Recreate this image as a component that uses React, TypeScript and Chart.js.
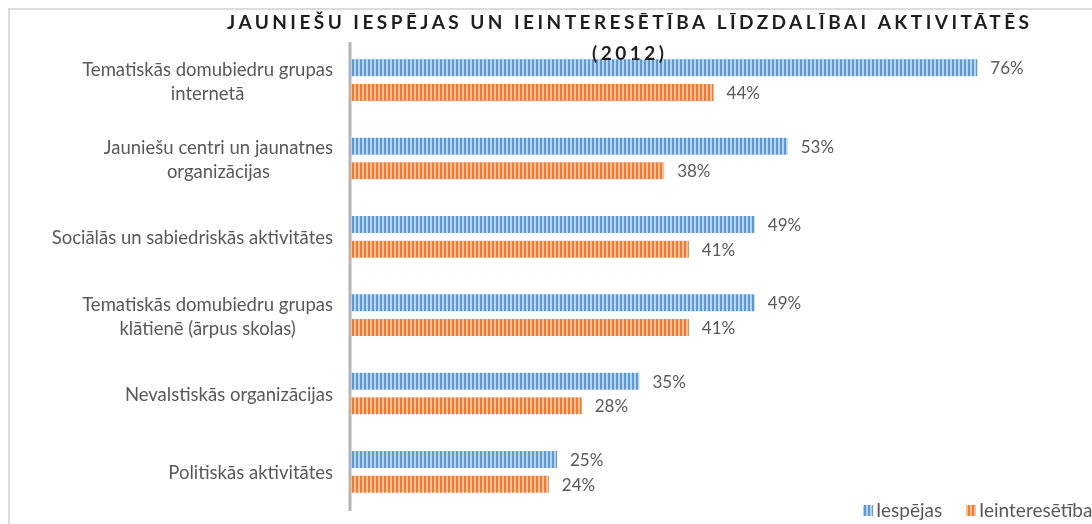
import React, { useEffect, useRef } from "react";
import { Chart, registerables } from "chart.js";
Chart.register(...registerables);

const categories: string[][] = [
  ["Tematiskās domubiedru grupas", "internetā"],
  ["Jauniešu centri un jaunatnes", "organizācijas"],
  ["Sociālās un sabiedriskās aktivitātes"],
  ["Tematiskās domubiedru grupas", "klātienē (ārpus skolas)"],
  ["Nevalstiskās organizācijas"],
  ["Politiskās aktivitātes"],
];
const seriesNames = ["Iespējas", "Ieinteresētība"];
const iespejas = [76, 53, 49, 49, 35, 25];
const ieinteresetiba = [44, 38, 41, 41, 28, 24];
const titleLines = ["JAUNIEŠU IESPĒJAS UN IEINTERESĒTĪBA LĪDZDALĪBAI AKTIVITĀTĒS", "(2012)"];

const BLUE = ["#5b9bd5", "#b7d3f0"];
const ORANGE = ["#ed7d31", "#f8bf99"];
const LABEL_FONT = "18.5px Lato";
const VALUE_FONT = "17px Lato";
const LEGEND_FONT = "19px Lato";
const TITLE_FONT = "bold 19px Lato";
const TEXT_COLOR = "#595959";

function stripes(dark: string, light: string): CanvasPattern | string {
  const c = document.createElement("canvas");
  c.width = 4;
  c.height = 4;
  const g = c.getContext("2d");
  if (!g) return dark;
  g.fillStyle = light;
  g.fillRect(0, 0, 4, 4);
  g.fillStyle = dark;
  g.fillRect(0, 0, 2, 4);
  return g.createPattern(c, "repeat") || dark;
}

export default function App() {
  const ref = useRef<HTMLCanvasElement | null>(null);
  useEffect(() => {
    document.body.style.margin = "0";
    const canvas = ref.current;
    if (!canvas) return;
    const pBlue = stripes(BLUE[0], BLUE[1]);
    const pOrange = stripes(ORANGE[0], ORANGE[1]);

    const deco = {
      id: "deco",
      beforeDatasetsDraw(chart: any) {
        const ctx = chart.ctx;
        const a = chart.chartArea;
        ctx.save();
        ctx.strokeStyle = "#dcdcdc";
        ctx.lineWidth = 2;
        ctx.strokeRect(9, 9, 1200, 700);
        ctx.fillStyle = "#b5b5b5";
        ctx.fillRect(a.left - 2.5, a.top + 1, 3, a.bottom - a.top - 1);
        ctx.restore();
      },
      afterDraw(chart: any) {
        const ctx = chart.ctx;
        const yScale = chart.scales.y;
        ctx.save();
        // category labels
        ctx.font = LABEL_FONT;
        ctx.fillStyle = TEXT_COLOR;
        ctx.textBaseline = "middle";
        ctx.textAlign = "center";
        categories.forEach((lines, i) => {
          const cy = yScale.getPixelForValue(i) + 1.5;
          const widest = Math.max(...lines.map((l) => ctx.measureText(l).width));
          const cx = 333 - widest / 2;
          lines.forEach((l, j) => {
            ctx.fillText(l, cx, cy + (j - (lines.length - 1) / 2) * 24);
          });
        });
        // data labels
        ctx.font = VALUE_FONT;
        ctx.textAlign = "left";
        chart.data.datasets.forEach((ds: any, di: number) => {
          const meta = chart.getDatasetMeta(di);
          meta.data.forEach((el: any, i: number) => {
            ctx.fillText(ds.data[i] + "%", el.x + 13, el.y + 1);
          });
        });
        // legend
        ctx.font = LEGEND_FONT;
        const legendItems = [
          { x: 863, pat: pBlue, text: seriesNames[0] },
          { x: 966, pat: pOrange, text: seriesNames[1] },
        ];
        legendItems.forEach((it) => {
          ctx.fillStyle = it.pat as any;
          ctx.fillRect(it.x, 505, 10, 11);
          ctx.fillStyle = TEXT_COLOR;
          ctx.fillText(it.text, it.x + 13, 511);
        });
        // title
        ctx.font = TITLE_FONT;
        ctx.fillStyle = "#1e1e1e";
        const target = 802;
        const chars = Array.from(titleLines[0]).length;
        (ctx as any).letterSpacing = "0px";
        const w0 = ctx.measureText(titleLines[0]).width;
        const ls = Math.max(0, (target - w0) / (chars - 1));
        (ctx as any).letterSpacing = ls + "px";
        const cxT = 628;
        ctx.textAlign = "left";
        ctx.fillText(titleLines[0], cxT - target / 2, 23);
        const w2 = ctx.measureText(titleLines[1]).width - ls;
        ctx.fillText(titleLines[1], cxT - w2 / 2, 54);
        (ctx as any).letterSpacing = "0px";
        ctx.restore();
      },
    };

    const chart = new Chart(canvas, {
      type: "bar",
      data: {
        labels: categories.map((c) => c.join(" ")),
        datasets: [
          {
            label: seriesNames[0],
            data: iespejas,
            backgroundColor: pBlue as any,
            borderWidth: 0,
            categoryPercentage: 0.63,
            barPercentage: 0.69,
          },
          {
            label: seriesNames[1],
            data: ieinteresetiba,
            backgroundColor: pOrange as any,
            borderWidth: 0,
            categoryPercentage: 0.63,
            barPercentage: 0.69,
          },
        ],
      },
      options: {
        indexAxis: "y",
        responsive: false,
        animation: false,
        devicePixelRatio: 1,
        layout: { padding: { left: 351, right: 1, top: 41, bottom: 13 } },
        scales: {
          x: { display: false, min: 0, max: 89.8 },
          y: { display: false },
        },
        plugins: {
          legend: { display: false },
          title: { display: false },
          tooltip: { enabled: false },
        },
      },
      plugins: [deco],
    });
    return () => chart.destroy();
  }, []);
  return (
    <div style={{ width: 1092, height: 524, background: "#fff" }}>
      <canvas ref={ref} width={1092} height={524} style={{ display: "block" }} />
    </div>
  );
}
